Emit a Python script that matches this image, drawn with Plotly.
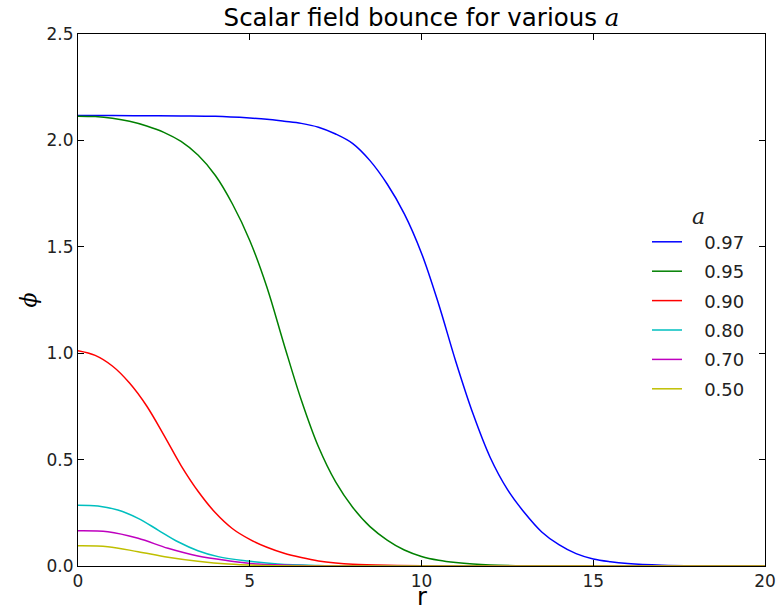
import plotly.graph_objects as go

# ---- data ----
labels = ["0.97", "0.95", "0.90", "0.80", "0.70", "0.50"]
colors = ["#0000ff", "#008000", "#ff0000", "#00bfbf", "#bf00bf", "#bfbf00"]

r_097 = [0, 1, 2, 3, 4, 5, 5.5, 6, 6.5, 7, 7.5, 8, 8.5, 9, 9.5, 10, 10.5, 11, 11.5, 12, 12.5, 13, 13.5, 14, 14.5, 15, 15.5, 16, 17, 18, 20]
phi_097 = [2.117, 2.117, 2.116, 2.115, 2.113, 2.105, 2.099, 2.09, 2.08, 2.062, 2.03, 1.985, 1.905, 1.795, 1.655, 1.47, 1.23, 0.96, 0.715, 0.51, 0.36, 0.25, 0.16, 0.10, 0.058, 0.033, 0.02, 0.012, 0.004, 0.001, 0.0]

r_095 = [0, 0.5, 1, 1.5, 2, 2.5, 3, 3.5, 4, 4.5, 5, 5.5, 6, 6.5, 7, 7.5, 8, 8.5, 9, 9.5, 10, 10.5, 11, 11.5, 12, 13, 14, 20]
phi_095 = [2.114, 2.112, 2.104, 2.09, 2.068, 2.038, 1.995, 1.93, 1.835, 1.70, 1.53, 1.31, 1.04, 0.78, 0.56, 0.395, 0.275, 0.185, 0.122, 0.075, 0.045, 0.027, 0.016, 0.009, 0.005, 0.0015, 0.0, 0.0]

r_090 = [0, 0.5, 1, 1.5, 2, 2.5, 3, 3.5, 4, 4.5, 5, 5.5, 6, 6.5, 7, 7.5, 8, 9, 10, 20]
phi_090 = [1.012, 0.99, 0.94, 0.86, 0.752, 0.615, 0.472, 0.35, 0.25, 0.175, 0.125, 0.088, 0.06, 0.04, 0.024, 0.014, 0.008, 0.003, 0.001, 0.0]

r_080 = [0, 0.58, 1.16, 1.75, 2.33, 2.91, 3.49, 4.08, 4.95, 5.82, 7, 8, 20]
phi_080 = [0.286, 0.282, 0.263, 0.224, 0.169, 0.114, 0.072, 0.044, 0.023, 0.009, 0.002, 0.0, 0.0]

r_070 = [0, 0.87, 1.75, 2.62, 3.49, 4.37, 5.24, 6.5, 8, 20]
phi_070 = [0.166, 0.161, 0.130, 0.083, 0.047, 0.025, 0.009, 0.002, 0.0, 0.0]

r_050 = [0, 0.87, 1.75, 2.62, 3.49, 4.37, 5.5, 7, 20]
phi_050 = [0.095, 0.091, 0.067, 0.041, 0.022, 0.009, 0.002, 0.0, 0.0]

series_r = [r_097, r_095, r_090, r_080, r_070, r_050]
series_phi = [phi_097, phi_095, phi_090, phi_080, phi_070, phi_050]

x_ticks = [0, 5, 10, 15, 20]
y_ticks = [0.0, 0.5, 1.0, 1.5, 2.0, 2.5]

fig = go.Figure()
for lab, col, rr, pp in zip(labels, colors, series_r, series_phi):
    fig.add_trace(go.Scatter(
        x=rr, y=pp, mode="lines", name="\u00a0\u00a0\u00a0" + lab,
        legendgroup=lab,
        line=dict(color=col, width=1.5, shape="spline", smoothing=1.0),
    ))

axis_common = dict(
    showline=True, linecolor="black", linewidth=1, mirror="allticks",
    ticks="inside", ticklen=6, tickcolor="black", tickwidth=1,
    showgrid=False, zeroline=False, automargin=False,
    tickfont=dict(family="DejaVu Sans", size=17, color="#222"),
)

fig.update_layout(
    width=776, height=612,
    margin=dict(l=78, r=11, t=34, b=46),
    paper_bgcolor="white", plot_bgcolor="white",
    title=dict(
        text="Scalar field bounce for various <span style='font-family:DejaVu Serif'><i>a</i></span>",
        x=0.5, xref="paper", y=1 - 17 / 612, yref="container", yanchor="middle",
        font=dict(family="DejaVu Sans", size=24.5, color="black"),
    ),
    xaxis=dict(range=[0, 20], tickvals=x_ticks, ticktext=[str(v) for v in x_ticks],
               **axis_common),
    yaxis=dict(range=[0, 2.5], tickvals=y_ticks, ticktext=[f"{v:.1f}" for v in y_ticks],
               title=dict(text="<i>ϕ</i>", font=dict(family="DejaVu Serif", size=22, color="black"), standoff=3),
               **axis_common),
    legend=dict(
        x=(647 - 78) / 687, xanchor="left", y=(566 - 195) / 532, yanchor="top",
        bgcolor="rgba(0,0,0,0)", borderwidth=0,
        font=dict(family="DejaVu Sans", size=18, color="#222"),
        title=dict(text="<i>a</i>", side="top center", font=dict(family="DejaVu Serif", size=22, color="#222")),
        tracegroupgap=3,
    ),
    annotations=[dict(
        text="r", x=0.5, xref="paper", y=(566 - 612) / 532, yref="paper",
        xanchor="center", yanchor="bottom", showarrow=False, borderpad=0,
        font=dict(family="DejaVu Sans", size=24, color="black"),
    )],
)

fig.write_html("out.html")
